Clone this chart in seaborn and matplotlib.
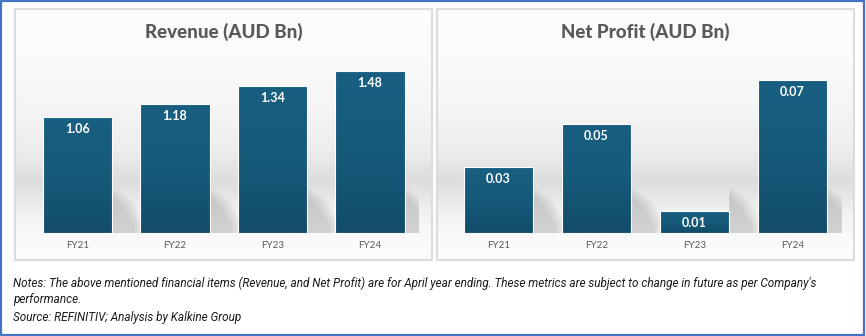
import numpy as np
import pandas as pd
import matplotlib
matplotlib.use("Agg")
import matplotlib.pyplot as plt
import seaborn as sns
from matplotlib.patches import Rectangle, Polygon
from matplotlib.colors import LinearSegmentedColormap

# ---------------- data ----------------
years = ["FY21", "FY22", "FY23", "FY24"]
revenue = [1.06, 1.18, 1.34, 1.48]
net_profit = [0.03, 0.05, 0.01, 0.07]
titles = ["Revenue (AUD Bn)", "Net Profit (AUD Bn)"]
notes_line1 = ("Notes: The above mentioned financial items (Revenue, and Net Profit) are for April "
               "year ending. These metrics are subject to change in future as per Company's")
notes_line2 = "performance."
source_line = "Source: REFINITIV; Analysis by Kalkine Group"

# ---------------- layout helpers ----------------
W, H = 866, 336
sns.set_theme(style="white")
plt.rcParams["font.family"] = ["Lato", "DejaVu Sans"]

fig = plt.figure(figsize=(W / 100, H / 100), dpi=100)
fig.patch.set_facecolor("white")


def fx(px):
    return px / W


def fy(py):
    return 1 - py / H


def rect_axes(x0, y0, x1, y1):
    return [fx(x0), fy(y1), (x1 - x0) / W, (y1 - y0) / H]


# outer blue border
fig.patches.append(Rectangle((fx(1), fy(335)), 863 / W, 334 / H, transform=fig.transFigure,
                             fill=False, edgecolor="#4472C4", lw=1.6, zorder=10))

bar_cmap = LinearSegmentedColormap.from_list("bar", ["#185f81", "#165a7a", "#124d6a"])

panels = [
    dict(box=(15, 9, 432, 260), plot=(28.75, 418.75), vals=revenue, title=titles[0]),
    dict(box=(437, 9, 854, 260), plot=(449.5, 841.5), vals=net_profit, title=titles[1]),
]
plot_top, baseline = 60, 233
scales = [109.4, 2186.0]  # px per unit

for k, p in enumerate(panels):
    x0, y0, x1, y1 = p["box"]
    # panel background with soft gradient
    bg = fig.add_axes(rect_axes(x0, y0, x1, y1), zorder=0)
    ys = np.arange(y0, y1 + 1)
    prof_y = [9, 55, 110, 150, 172, 182, 195, 212, 238, 260]
    prof_v = [0.99, 0.985, 0.96, 0.93, 0.885, 0.865, 0.90, 0.945, 0.98, 0.99]
    col = np.interp(ys, prof_y, prof_v)
    img = np.repeat(col[:, None], 10, axis=1)
    img = np.dstack([img, img, img])
    bg.imshow(img, aspect="auto", extent=[0, 1, 0, 1], interpolation="bilinear")
    bg.set_axis_off()
    fig.patches.append(Rectangle((fx(x0), fy(y1)), (x1 - x0) / W, (y1 - y0) / H,
                                 transform=fig.transFigure, fill=False,
                                 edgecolor="#dcdcdc", lw=1.5, zorder=1))

    # bar axes
    px0, px1 = p["plot"]
    ax = fig.add_axes(rect_axes(px0, plot_top, px1, baseline), zorder=2)
    ax.patch.set_alpha(0)
    df = pd.DataFrame({"year": years, "value": p["vals"]})
    sns.barplot(data=df, x="year", y="value", ax=ax, width=0.71, color="#165c7c",
                edgecolor="white", linewidth=0.8, saturation=1)
    ymax = (baseline - plot_top) / scales[k]
    ppx = (px1 - px0) / 4.0  # px per x unit
    ppy = scales[k]

    grad = np.linspace(0, 1, 100)[:, None]
    for i, bar in enumerate(ax.patches):
        bx, bw, bh = bar.get_x(), bar.get_width(), bar.get_height()
        r = bx + bw
        # soft shadow to the lower right of the bar (layered for blur)
        for s in range(8):
            grow = s * 1.5
            pts = [(r, 0), (r, (36 + grow) / ppy), (r + (10 + grow) / ppx, (26 + grow * 0.6) / ppy),
                   (r + (22 + grow) / ppx, (8 + grow * 0.3) / ppy), (r + (22 + grow) / ppx, 0)]
            ax.add_patch(Polygon(pts, closed=True, facecolor="#808080", alpha=0.045,
                                 edgecolor="none", zorder=0.5))
        im = ax.imshow(grad, extent=[bx, bx + bw, 0, bh], aspect="auto", cmap=bar_cmap,
                       vmin=0, vmax=1, zorder=1.5, interpolation="bilinear")
        im.set_clip_path(bar)
        bar.set_facecolor("none")
        bar.set_zorder(2)
        ax.annotate(f"{p['vals'][i]:.2f}", (bx + bw / 2, bh), xytext=(0, -12 * 0.72),
                    textcoords="offset points", ha="center", va="center",
                    color="white", fontsize=9, fontweight="bold", zorder=3)

    ax.set_xlim(-0.5, 3.5)
    ax.set_ylim(0, ymax)
    ax.set_xlabel("")
    ax.set_ylabel("")
    ax.set_yticks([])
    ax.tick_params(axis="x", length=0, pad=6, labelsize=7, labelcolor="#595959")
    for sp in ax.spines.values():
        sp.set_visible(False)

    # title
    fig.text(fx((x0 + x1) / 2), fy(32), p["title"], ha="center", va="center",
             fontsize=13.5, fontweight="black", color="#595959", zorder=5)

# notes
note_kw = dict(style="italic", color="#1a1a1a", va="center", ha="left", zorder=5,
               family=["Roboto", "DejaVu Sans"])
t1 = fig.text(fx(13), fy(283), notes_line1, fontsize=9, **note_kw)
fig.canvas.draw()
w = t1.get_window_extent().width
fs = 9 * 809 / w
t1.set_fontsize(fs)
fig.text(fx(13), fy(299.5), notes_line2, fontsize=fs, **note_kw)
fig.text(fx(13), fy(317), source_line, fontsize=fs, **note_kw)

fig.savefig("out.png", dpi=100, facecolor="white")
